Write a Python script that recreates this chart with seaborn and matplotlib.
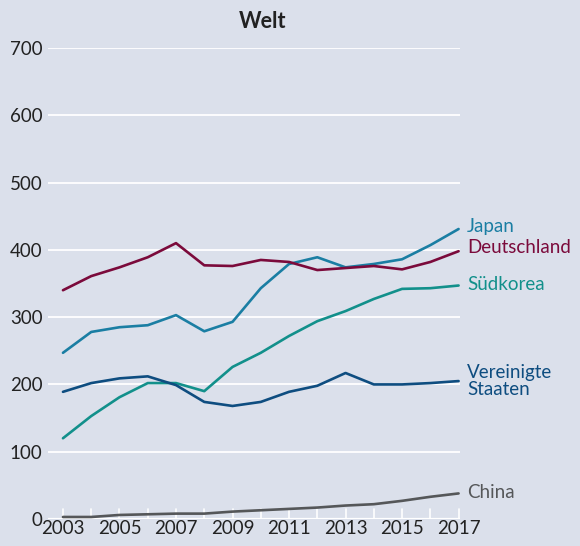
import numpy as np
import pandas as pd
import matplotlib.pyplot as plt
import seaborn as sns

# values
years = list(range(2003, 2018))
japan = [247, 278, 285, 288, 303, 279, 293, 343, 379, 389, 374, 379, 386, 407, 431]
deutschland = [340, 361, 374, 389, 410, 377, 376, 385, 382, 370, 373, 376, 371, 382, 398]
suedkorea = [120, 153, 181, 202, 202, 190, 226, 247, 272, 294, 309, 327, 342, 343, 347]
usa = [189, 202, 209, 212, 199, 174, 168, 174, 189, 198, 217, 200, 200, 202, 205]
china = [3, 3, 6, 7, 8, 8, 11, 13, 15, 17, 20, 22, 27, 33, 38]

series = {
    "Japan": japan,
    "Deutschland": deutschland,
    "Südkorea": suedkorea,
    "Vereinigte\nStaaten": usa,
    "China": china,
}
colors = {
    "Japan": "#1a7ea3",
    "Deutschland": "#7b0a3b",
    "Südkorea": "#12908b",
    "Vereinigte\nStaaten": "#0e4d80",
    "China": "#555759",
}
# vertical nudge of the end labels (data units)
label_shift = {
    "Japan": 4,
    "Deutschland": 5,
    "Südkorea": 2,
    "Vereinigte\nStaaten": 0,
    "China": 2,
}

df = pd.DataFrame(
    [(y, name, v) for name, vals in series.items() for y, v in zip(years, vals)],
    columns=["Jahr", "Land", "Wert"],
)

bg = "#dbe0eb"
sns.set_theme(style="white")
plt.rcParams["font.family"] = ["Lato", "DejaVu Sans"]

fig = plt.figure(figsize=(5.8, 5.46), dpi=100, facecolor=bg)
ax = fig.add_axes([48 / 580, 1 - 519 / 546, 412 / 580, 471 / 546])
ax.set_facecolor(bg)

for y in range(100, 800, 100):
    ax.axhline(y, color="white", lw=1.3, zorder=1)
ax.axhline(0, color="white", lw=1.6, zorder=1)
for yr in years:
    ax.plot([yr, yr], [0, 15], color="white", lw=1.2, zorder=1)

sns.lineplot(data=df, x="Jahr", y="Wert", hue="Land", palette=colors,
             linewidth=1.9, legend=False, ax=ax, zorder=3)

for name, vals in series.items():
    ax.text(2017.3, vals[-1] + label_shift[name], name, color=colors[name],
            fontsize=13.5, va="center", ha="left", linespacing=0.95, clip_on=False)

ax.set_xlim(2002.47, 2017.05)
ax.set_ylim(0, 700)
ax.set_xticks(list(range(2003, 2018, 2)))
ax.set_yticks(list(range(0, 800, 100)))
ax.tick_params(axis="both", length=0, labelsize=13.5, colors="#222222")
ax.tick_params(axis="y", pad=4)
ax.tick_params(axis="x", pad=1)
ax.set_xlabel("")
ax.set_ylabel("")
sns.despine(ax=ax, left=True, bottom=True)

fig.text(263 / 580, 1 - 22 / 546, "Welt", fontsize=15.5, fontweight="bold",
         ha="center", va="center", color="#222222")

fig.savefig("out.png", dpi=100, facecolor=bg)
